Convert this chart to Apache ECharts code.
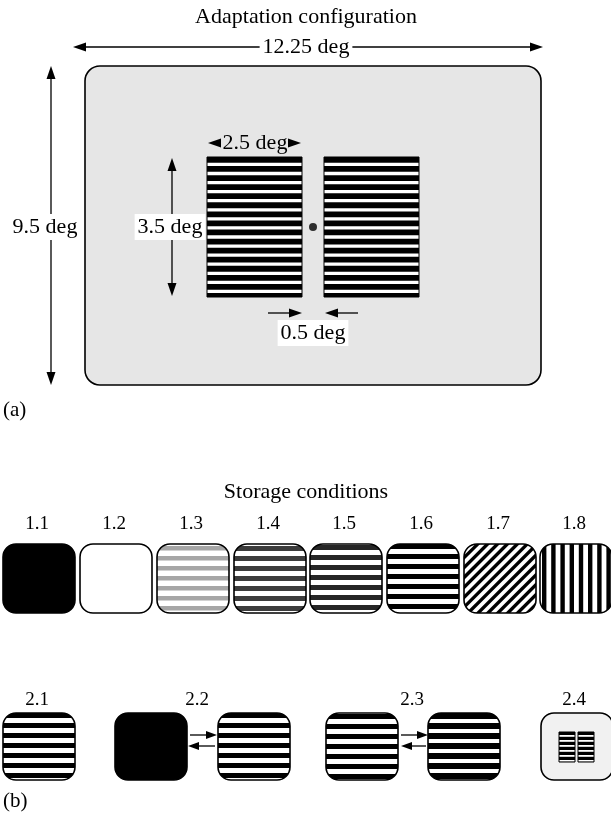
<!DOCTYPE html>
<html><head><meta charset="utf-8">
<script src="https://cdn.jsdelivr.net/npm/echarts/dist/echarts.min.js"></script>
<style>html,body{margin:0;padding:0;background:#fff}#c{width:611px;height:819px}</style>
</head><body><div id="c"></div><script>
// ---------------- data ----------------
const headings = ['Adaptation configuration', 'Storage conditions'];
const headingPos = [[306, 17], [306, 492]];
const panelLabels = ['(a)', '(b)'];
const panelLabelPos = [[3, 410], [3, 801]];

// panel (a): layout in page units
const screenBox = [[85, 66, 541, 385, 0]];
const adaptGratings = [[207, 157, 302, 297, 0], [324, 157, 419, 297, 0]];
const fixationPoint = [[313, 227]];
// x0, y0, x1, y1, head at start, head at end, draw shaft
const dimArrows = [
  [73, 47, 543, 47, 1, 1, 1],
  [51, 66, 51, 385, 1, 1, 1],
  [172, 158, 172, 296, 1, 1, 1],
  [208, 143, 301, 143, 1, 1, 0],
  [268, 313, 302, 313, 0, 1, 1],
  [358, 313, 325, 313, 0, 1, 1]
];
const dimLabels = ['12.25 deg', '9.5 deg', '3.5 deg', '2.5 deg', '0.5 deg'];
const dimLabelPos = [[306, 47], [45, 227], [170, 227], [255, 143], [313, 333]];
const dimLabelBg = ['#fff', '#fff', '#fff', null, '#fff'];

// panel (b): storage conditions
const storageLabels1 = ['1.1', '1.2', '1.3', '1.4', '1.5', '1.6', '1.7', '1.8'];
const storageLabelX1 = [37, 114, 191, 268, 344, 421, 498, 574];
const storageLabelY1 = 524;
const storageBoxX1 = [3, 80, 157, 234, 310, 387, 464, 540];
const storagePattern1 = [1, 2, 3, 4, 5, 6, 7, 8];
const storageRow1Y = [544, 613];

const storageLabels2 = ['2.1', '2.2', '2.3', '2.4'];
const storageLabelX2 = [37, 197, 412, 574];
const storageLabelY2 = 700;
const storageBoxX2 = [3, 115, 218, 326, 428, 541];
const storagePattern2 = [6, 1, 6, 9, 10, 13];
const storageRow2Y = [713, 780];
const exchangeArrows = [
  [190, 735, 217, 735, 0, 1, 1],
  [215, 746, 188, 746, 0, 1, 1],
  [401, 735, 428, 735, 0, 1, 1],
  [426, 746, 401, 746, 0, 1, 1]
];
const miniGratings = [[559, 732, 575, 762, 11], [578, 732, 594, 762, 11]];

// ---------------- styles ----------------
const FONT = '"Liberation Serif", "Times New Roman", serif';
const PATTERNS = [
  {fill: '#e6e6e6'},                                                             // 0 screen grey
  {fill: '#000'},                                                                // 1 dark
  {fill: '#fff'},                                                                // 2 blank
  {fill: '#fff', dir: 'h', period: 10, width: 4.5, offset: 2, color: '#a6a6a6'}, // 3 low contrast
  {fill: '#fff', dir: 'h', period: 10, width: 5, offset: 2, color: '#3c3c3c'},   // 4 mid contrast
  {fill: '#fff', dir: 'h', period: 10, width: 5, offset: 1, color: '#262626'},   // 5 high-ish
  {fill: '#fff', dir: 'h', period: 10, width: 5, offset: 0, color: '#000'},      // 6 grating
  {fill: '#fff', dir: 'd', period: 7, width: 3.4, offset: 1, color: '#000'},     // 7 oblique
  {fill: '#fff', dir: 'v', period: 9.2, width: 4.4, offset: 2, color: '#000'},   // 8 vertical
  {fill: '#fff', dir: 'h', period: 10, width: 5, offset: 1, color: '#000'},      // 9 grating (2.3 a)
  {fill: '#fff', dir: 'h', period: 10, width: 6, offset: 0, color: '#000'},      // 10 grating (2.3 b)
  {fill: '#000', dir: 'h', period: 5, width: 1.8, offset: 3, color: '#fff'},     // 11 mini grating
  {fill: '#fff', dir: 'h', period: 9.07, width: 5.8, offset: 0, color: '#000'},  // 12 adaptation grating
  {fill: '#f1f1f1'}                                                              // 13 light screen
];

// ---------------- geometry helpers ----------------
function roundedPolygon(x0, y0, x1, y1, r) {
  const pts = [], seg = 10;
  const c = [[x1 - r, y0 + r, -Math.PI / 2, 0], [x1 - r, y1 - r, 0, Math.PI / 2],
             [x0 + r, y1 - r, Math.PI / 2, Math.PI], [x0 + r, y0 + r, Math.PI, 1.5 * Math.PI]];
  for (const [cx, cy, a0, a1] of c) {
    for (let i = 0; i <= seg; i++) {
      const a = a0 + (a1 - a0) * i / seg;
      pts.push([cx + r * Math.cos(a), cy + r * Math.sin(a)]);
    }
  }
  return pts;
}
function clipPolygon(subject, clipper) {
  let out = subject;
  for (let i = 0; i < clipper.length && out.length; i++) {
    const A = clipper[i], B = clipper[(i + 1) % clipper.length];
    if (Math.abs(A[0] - B[0]) < 1e-9 && Math.abs(A[1] - B[1]) < 1e-9) continue;
    const side = p => (B[0] - A[0]) * (p[1] - A[1]) - (B[1] - A[1]) * (p[0] - A[0]);
    const inp = out; out = [];
    for (let j = 0; j < inp.length; j++) {
      const P = inp[j], Q = inp[(j + 1) % inp.length];
      const sp = side(P), sq = side(Q);
      if (sp >= 0) out.push(P);
      if ((sp >= 0) !== (sq >= 0)) {
        const t = sp / (sp - sq);
        out.push([P[0] + (Q[0] - P[0]) * t, P[1] + (Q[1] - P[1]) * t]);
      }
    }
  }
  return out;
}
function stripePolygons(x0, y0, x1, y1, pat) {
  const polys = [];
  if (pat.dir === 'h') {
    for (let y = y0 + pat.offset; y < y1; y += pat.period)
      polys.push([[x0 - 3, y], [x1 + 3, y], [x1 + 3, y + pat.width], [x0 - 3, y + pat.width]]);
  } else if (pat.dir === 'v') {
    for (let x = x0 + pat.offset; x < x1; x += pat.period)
      polys.push([[x, y0 - 3], [x + pat.width, y0 - 3], [x + pat.width, y1 + 3], [x, y1 + 3]]);
  } else if (pat.dir === 'd') {
    const s2 = Math.SQRT2, L = (x1 - x0) + (y1 - y0);
    const sMin = (x0 + y0) / s2, sMax = (x1 + y1) / s2;
    const P = (s, t) => [(s + t) / s2, (s - t) / s2];
    for (let s = sMin + pat.offset; s < sMax; s += pat.period)
      polys.push([P(s, -L), P(s, L), P(s + pat.width, L), P(s + pat.width, -L)]);
  }
  return polys;
}

function boxSeries(name, data, radius, lineWidth, patternOverride) {
  return {
    type: 'custom', name, coordinateSystem: 'cartesian2d', data, silent: true, clip: false,
    encode: {x: [0, 2], y: [1, 3]},
    renderItem(params, api) {
      const a = api.coord([api.value(0), api.value(1)]);
      const b = api.coord([api.value(2), api.value(3)]);
      const x0 = Math.min(a[0], b[0]), x1 = Math.max(a[0], b[0]);
      const y0 = Math.min(a[1], b[1]), y1 = Math.max(a[1], b[1]);
      const pat = PATTERNS[patternOverride != null ? patternOverride : api.value(4)];
      const children = [{
        type: 'rect', shape: {x: x0, y: y0, width: x1 - x0, height: y1 - y0, r: radius},
        style: {fill: pat.fill, stroke: null}
      }];
      if (pat.dir) {
        const clipper = roundedPolygon(x0, y0, x1, y1, radius);
        for (const poly of stripePolygons(x0, y0, x1, y1, pat)) {
          const c = clipPolygon(poly, clipper);
          if (c.length > 2) children.push({type: 'polygon', shape: {points: c}, style: {fill: pat.color}});
        }
      }
      if (lineWidth > 0) children.push({
        type: 'rect', shape: {x: x0, y: y0, width: x1 - x0, height: y1 - y0, r: radius},
        style: {fill: null, stroke: '#000', lineWidth}
      });
      return {type: 'group', children};
    }
  };
}

function arrowSeries(name, data, headLen, headHalf, lineWidth) {
  return {
    type: 'custom', name, coordinateSystem: 'cartesian2d', data, silent: true, clip: false,
    encode: {x: [0, 2], y: [1, 3]},
    renderItem(params, api) {
      const a = api.coord([api.value(0), api.value(1)]);
      const b = api.coord([api.value(2), api.value(3)]);
      const hs = api.value(4), he = api.value(5), shaft = api.value(6);
      const dx = b[0] - a[0], dy = b[1] - a[1], len = Math.hypot(dx, dy);
      const ux = dx / len, uy = dy / len;
      const head = (tip, vx, vy) => ({
        type: 'polygon',
        shape: {points: [tip,
          [tip[0] - vx * headLen - vy * headHalf, tip[1] - vy * headLen + vx * headHalf],
          [tip[0] - vx * headLen + vy * headHalf, tip[1] - vy * headLen - vx * headHalf]]},
        style: {fill: '#000'}
      });
      const children = [];
      if (shaft) children.push({
        type: 'line',
        shape: {x1: a[0] + (hs ? ux * headLen * 0.7 : 0), y1: a[1] + (hs ? uy * headLen * 0.7 : 0),
                x2: b[0] - (he ? ux * headLen * 0.7 : 0), y2: b[1] - (he ? uy * headLen * 0.7 : 0)},
        style: {stroke: '#000', lineWidth}
      });
      if (hs) children.push(head(a, -ux, -uy));
      if (he) children.push(head(b, ux, uy));
      return {type: 'group', children};
    }
  };
}

function textSeries(name, labels, positions, size, align, bgs) {
  return {
    type: 'custom', name, coordinateSystem: 'cartesian2d', data: positions, silent: true, clip: false,
    renderItem(params, api) {
      const p = api.coord([api.value(0), api.value(1)]);
      const bg = bgs ? bgs[params.dataIndex] : null;
      const style = {
        text: labels[params.dataIndex], x: p[0], y: p[1],
        font: size + 'px ' + FONT, fill: '#000',
        align: align, verticalAlign: 'middle', textAlign: align, textVerticalAlign: 'middle'
      };
      if (bg) { style.backgroundColor = bg; style.padding = [2, 3]; }
      return {type: 'text', style};
    }
  };
}

// derived tables
const row1Boxes = storageBoxX1.map((x, i) => [x, storageRow1Y[0], x + 72, storageRow1Y[1], storagePattern1[i]]);
const row2Boxes = storageBoxX2.map((x, i) => [x, storageRow2Y[0], x + 72, storageRow2Y[1], storagePattern2[i]]);
const row1LabelPos = storageLabelX1.map(x => [x, storageLabelY1]);
const row2LabelPos = storageLabelX2.map(x => [x, storageLabelY2]);

const chart = echarts.init(document.getElementById('c'), null, {renderer: 'canvas'});
chart.setOption({
  animation: false,
  backgroundColor: '#fff',
  grid: {left: 0, right: 0, top: 0, bottom: 0, containLabel: false},
  xAxis: {type: 'value', min: 0, max: 611, show: false},
  yAxis: {type: 'value', min: 0, max: 819, inverse: true, show: false},
  series: [
    boxSeries('screen', screenBox, 15, 1.6),
    boxSeries('adaptGratings', adaptGratings, 0, 1, 12),
    {type: 'scatter', name: 'fixation', data: fixationPoint, symbol: 'circle', symbolSize: 8,
     itemStyle: {color: '#000'}, silent: true},
    arrowSeries('dimensions', dimArrows, 13, 4.5, 1.3),
    textSeries('dimLabels', dimLabels, dimLabelPos, 22, 'center', dimLabelBg),
    textSeries('headings', headings, headingPos, 22, 'center'),
    textSeries('panels', panelLabels, panelLabelPos, 21, 'left'),
    textSeries('row1Labels', storageLabels1, row1LabelPos, 19, 'center'),
    textSeries('row2Labels', storageLabels2, row2LabelPos, 19, 'center'),
    boxSeries('row1', row1Boxes, 13, 1.6),
    boxSeries('row2', row2Boxes, 13, 1.6),
    boxSeries('mini', miniGratings, 0, 1),
    arrowSeries('exchange', exchangeArrows, 11, 4, 1.3)
  ]
});
</script></body></html>
